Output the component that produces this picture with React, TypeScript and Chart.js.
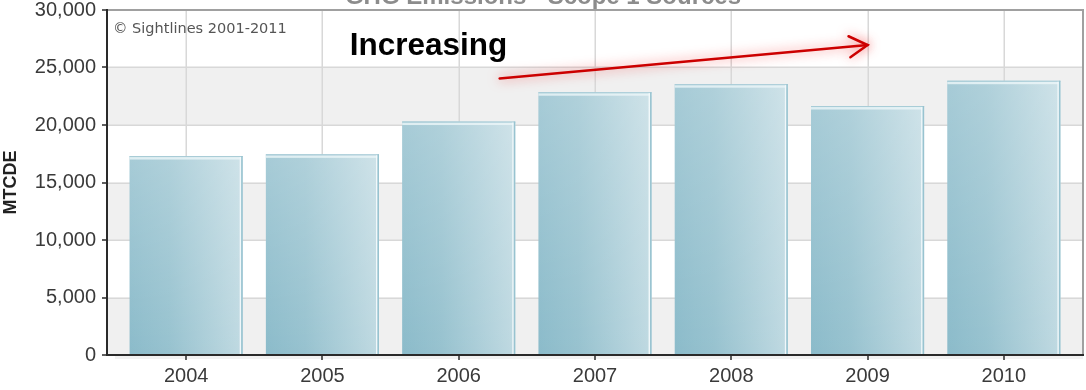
import React, { useEffect, useRef } from "react";
import { Chart, registerables } from "chart.js";

Chart.register(...registerables);

// Annual Scope 1 greenhouse-gas emissions (metric tons CO2 equivalent)
const years = ["2004", "2005", "2006", "2007", "2008", "2009", "2010"];
const emissions = [17300, 17450, 20300, 22850, 23550, 21650, 23850];
const yMin = 0;
const yMax = 30000;
const yStep = 5000;

// Trend arrow, in category index / value units
const trendFrom = { x: 2.3, y: 24050 };
const trendTo = { x: 5.0, y: 26950 };
const trendLabelAt = { x: 1.2, y: 26050 };

const chartTitle = "GHG Emissions - Scope 1 Sources";
const copyrightText = "\u00A9 Sightlines 2001-2011";
const trendLabel = "Increasing";
const yAxisTitle = "MTCDE";

const SANS = "'Liberation Sans', Arial, Helvetica, sans-serif";
const FRAME_PAD = 11; // frame extends a little past the outer categories
const BAR_PCT = 0.83;

const framePlugin = {
  id: "frame",
  beforeDatasetsDraw(chart: any) {
    const { ctx, chartArea, scales } = chart;
    const xs = scales.x;
    const ys = scales.y;
    const L = chartArea.left - FRAME_PAD;
    const R = chartArea.right + FRAME_PAD;
    const T = ys.getPixelForValue(yMax);
    const B = ys.getPixelForValue(yMin);
    ctx.save();
    // alternating horizontal bands
    let band = 0;
    for (let v = yMin; v < yMax; v += yStep) {
      const y1 = ys.getPixelForValue(v);
      const y2 = ys.getPixelForValue(v + yStep);
      ctx.fillStyle = band % 2 === 0 ? "#f0f0f0" : "#ffffff";
      ctx.fillRect(L, y2, R - L, y1 - y2);
      band++;
    }
    // grid lines
    ctx.strokeStyle = "#d8d8d8";
    ctx.lineWidth = 1.5;
    for (let v = yMin + yStep; v < yMax; v += yStep) {
      const y = Math.round(ys.getPixelForValue(v)) + 0.25;
      ctx.beginPath();
      ctx.moveTo(L, y);
      ctx.lineTo(R, y);
      ctx.stroke();
    }
    years.forEach((_, i) => {
      const x = Math.round(xs.getPixelForValue(i)) + 0.25;
      ctx.beginPath();
      ctx.moveTo(x, T);
      ctx.lineTo(x, B);
      ctx.stroke();
    });
    ctx.restore();
  },
  afterDatasetsDraw(chart: any) {
    const { ctx, chartArea, scales } = chart;
    const xs = scales.x;
    const ys = scales.y;
    const L = chartArea.left - FRAME_PAD;
    const R = chartArea.right + FRAME_PAD;
    const T = ys.getPixelForValue(yMax);
    const B = ys.getPixelForValue(yMin);
    ctx.save();

    // bar sheen, top cap and right edge highlight
    const meta = chart.getDatasetMeta(0);
    meta.data.forEach((bar: any) => {
      const { x, y, base, width } = bar.getProps(["x", "y", "base", "width"], true);
      const l = x - width / 2;
      const r = x + width / 2;
      const h = base - y;
      const sheen = ctx.createLinearGradient(0, y, 0, base);
      sheen.addColorStop(0, "rgba(255,255,255,0.24)");
      sheen.addColorStop(1, "rgba(255,255,255,0)");
      ctx.fillStyle = sheen;
      ctx.fillRect(l, y, width, h);
      ctx.fillStyle = "rgba(236,246,249,0.8)";
      ctx.fillRect(l, y + 1, width, 2.5);
      ctx.fillStyle = "#a8ccd7";
      ctx.fillRect(l, y, width, 1);
      ctx.fillStyle = "rgba(242,249,251,0.95)";
      ctx.fillRect(r - 3, y + 1, 1.5, h - 1);
      ctx.fillStyle = "#98c3d0";
      ctx.fillRect(r - 1.5, y, 1.5, h);
    });

    // faint shadow under the category axis
    ctx.fillStyle = "rgba(0,0,0,0.05)";
    ctx.fillRect(L + 8, B + 1, R - L - 8, 3);

    // top and right frame
    ctx.strokeStyle = "#a0a0a0";
    ctx.lineWidth = 2;
    ctx.beginPath();
    ctx.moveTo(L, T);
    ctx.lineTo(R, T);
    ctx.lineTo(R, B);
    ctx.stroke();

    // value and category axes
    ctx.strokeStyle = "#2a2a2a";
    ctx.lineWidth = 2;
    ctx.beginPath();
    ctx.moveTo(L, T - 1);
    ctx.lineTo(L, B);
    ctx.lineTo(R + 1, B);
    ctx.stroke();
    ctx.lineWidth = 1.5;
    for (let v = yMin; v <= yMax; v += yStep) {
      const y = Math.round(ys.getPixelForValue(v));
      ctx.beginPath();
      ctx.moveTo(L - 5, y);
      ctx.lineTo(L, y);
      ctx.stroke();
    }
    years.forEach((_, i) => {
      const x = Math.round(xs.getPixelForValue(i));
      ctx.beginPath();
      ctx.moveTo(x, B);
      ctx.lineTo(x, B + 5);
      ctx.stroke();
    });
    ctx.restore();
  },
  afterDraw(chart: any) {
    const { ctx, chartArea, scales, width } = chart;
    const xs = scales.x;
    const ys = scales.y;
    const L = chartArea.left - FRAME_PAD;
    const T = ys.getPixelForValue(yMax);
    ctx.save();

    // title (partly above the canvas edge)
    ctx.font = `bold 24px ${SANS}`;
    ctx.fillStyle = "#8c8c8c";
    ctx.textAlign = "center";
    ctx.textBaseline = "alphabetic";
    ctx.fillText(chartTitle, width / 2, 4);

    // copyright note
    ctx.font = "14.5px 'DejaVu Sans', Verdana, sans-serif";
    ctx.fillStyle = "#555555";
    ctx.textAlign = "left";
    ctx.fillText(copyrightText, L + 6, T + 23);

    // trend label
    ctx.font = `bold 31.5px ${SANS}`;
    ctx.fillStyle = "#000000";
    ctx.fillText(trendLabel, xs.getPixelForValue(trendLabelAt.x), ys.getPixelForValue(trendLabelAt.y));

    // trend arrow
    const x0 = xs.getPixelForValue(trendFrom.x);
    const y0 = ys.getPixelForValue(trendFrom.y);
    const x1 = xs.getPixelForValue(trendTo.x);
    const y1 = ys.getPixelForValue(trendTo.y);
    const a = Math.atan2(y1 - y0, x1 - x0);
    const head = 21;
    ctx.strokeStyle = "#cc0000";
    ctx.lineWidth = 2.5;
    ctx.lineCap = "round";
    ctx.lineJoin = "miter";
    ctx.shadowColor = "rgba(240,0,0,0.6)";
    ctx.shadowBlur = 12;
    ctx.beginPath();
    ctx.moveTo(x0, y0);
    ctx.lineTo(x1, y1);
    ctx.stroke();
    ctx.beginPath();
    ctx.moveTo(x1 - head * Math.cos(a - Math.PI / 6), y1 - head * Math.sin(a - Math.PI / 6));
    ctx.lineTo(x1, y1);
    ctx.lineTo(x1 - head * Math.cos(a + Math.PI / 6), y1 - head * Math.sin(a + Math.PI / 6));
    ctx.stroke();
    ctx.restore();
  },
};

function barFill(context: any) {
  const chart = context.chart;
  const xs = chart.scales?.x;
  if (!chart.chartArea || !xs) return "#a6cbd6";
  const cx = xs.getPixelForValue(context.dataIndex);
  const w = (xs.width / years.length) * BAR_PCT;
  const g = chart.ctx.createLinearGradient(cx - w / 2, 0, cx + w / 2, 0);
  g.addColorStop(0, "#8bbbca");
  g.addColorStop(0.35, "#97c2cf");
  g.addColorStop(1, "#c0dae2");
  return g;
}

export default function App() {
  const canvasRef = useRef<HTMLCanvasElement | null>(null);

  useEffect(() => {
    document.body.style.margin = "0";
    const canvas = canvasRef.current;
    if (!canvas) return;
    const chart = new Chart(canvas, {
      type: "bar",
      data: {
        labels: years,
        datasets: [
          {
            label: yAxisTitle,
            data: emissions,
            backgroundColor: barFill,
            borderWidth: 0,
            barPercentage: BAR_PCT,
            categoryPercentage: 1,
          },
        ],
      },
      options: {
        animation: false,
        responsive: false,
        devicePixelRatio: 1,
        layout: { padding: { top: 10, right: 14, left: 0, bottom: 0 } },
        plugins: {
          legend: { display: false },
          tooltip: { enabled: false },
          title: { display: false },
        },
        scales: {
          x: {
            type: "category",
            offset: true,
            grid: { display: false },
            border: { display: false },
            ticks: {
              color: "#3a3a3a",
              font: { family: SANS, size: 20 },
              padding: 1,
              maxRotation: 0,
            },
            afterFit: (scale: any) => {
              scale.height = 35;
              scale.paddingLeft = 0;
              scale.paddingRight = 0;
            },
          },
          y: {
            min: yMin,
            max: yMax,
            grid: { display: false },
            border: { display: false },
            ticks: {
              stepSize: yStep,
              color: "#3a3a3a",
              font: { family: SANS, size: 20 },
              padding: 14,
              callback: (v: any) => Number(v).toLocaleString("en-US"),
            },
            title: {
              display: true,
              text: yAxisTitle,
              color: "#222222",
              font: { family: SANS, size: 18, weight: "bold" },
              padding: 0,
            },
            afterFit: (scale: any) => {
              scale.width = 118;
              scale.paddingTop = 0;
              scale.paddingBottom = 0;
            },
          },
        },
      },
      plugins: [framePlugin],
    });
    return () => chart.destroy();
  }, []);

  return (
    <div style={{ position: "absolute", left: 0, top: 0, width: 1086, height: 390 }}>
      <canvas ref={canvasRef} width={1086} height={390} style={{ width: 1086, height: 390, display: "block" }} />
    </div>
  );
}
